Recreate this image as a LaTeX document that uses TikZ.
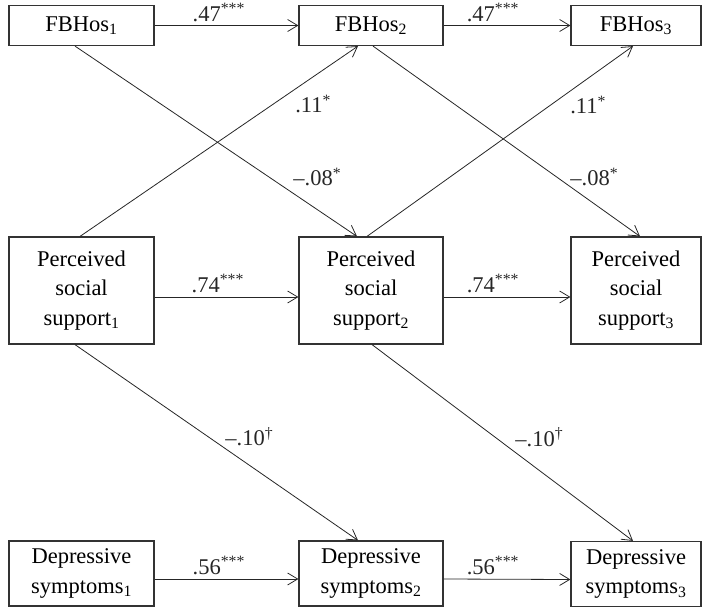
\documentclass[tikz,border=0pt]{standalone}
\usepackage{fontspec}
\setmainfont{Liberation Serif}
\usetikzlibrary{arrows.meta}

\begin{document}
\begin{tikzpicture}[x=1pt,y=-1pt,
    font=\fontsize{22.5}{29.5}\selectfont,
    >={Straight Barb[length=10pt,width=12pt]}]

        \useasboundingbox (0,0) rectangle (704,615);

        \begin{scope}[every node/.style={draw=black!80, line width=1.2pt, align=center, inner sep=0pt}]
          \node[minimum width=145pt, minimum height=40pt] (fb1) at (81.5,25.5)  {FBHos\textsubscript{1}};
          \node[minimum width=144pt, minimum height=40pt] (fb2) at (371,25.5)   {FBHos\textsubscript{2}};
          \node[minimum width=130pt, minimum height=40pt] (fb3) at (636,25.5)   {FBHos\textsubscript{3}};
          \node[minimum width=145pt, minimum height=107pt] (ps1) at (81.5,290.5) {Perceived\\social\\support\textsubscript{1}};
          \node[minimum width=144pt, minimum height=107pt] (ps2) at (371,290.5)  {Perceived\\social\\support\textsubscript{2}};
          \node[minimum width=130pt, minimum height=107pt] (ps3) at (636,290.5)  {Perceived\\social\\support\textsubscript{3}};
          \node[minimum width=145pt, minimum height=65pt] (ds1) at (81.5,573.5) {Depressive\\symptoms\textsubscript{1}};
          \node[minimum width=144pt, minimum height=65pt] (ds2) at (371,573.5)  {Depressive\\symptoms\textsubscript{2}};
          \node[minimum width=130pt, minimum height=65pt] (ds3) at (636,574)    {Depressive\\symptoms\textsubscript{3}};
        \end{scope}

        \begin{scope}[every node/.style={anchor=base west, inner sep=0pt}]

          \begin{scope}[every edge/.style={draw, ->, line width=.8pt, black!85}]
            % stability paths
            \path (fb1.east) edge node[pos=.262, yshift=4pt] (l47a) {.47\textsuperscript{***}} (fb2.west);
            \path (fb2.east) edge node[pos=.18, yshift=4pt] (l47b) {.47\textsuperscript{***}} (fb3.west);
            \path ([yshift=-6.5pt]ps1.east) edge node[pos=.255, yshift=5pt] (l74a) {.74\textsuperscript{***}} ([yshift=-6.5pt]ps2.west);
            \path ([yshift=-6.5pt]ps2.east) edge node[pos=.18, yshift=5pt] (l74b) {.74\textsuperscript{***}} ([yshift=-6.5pt]ps3.west);
            \path ([yshift=-5.5pt]ds1.east) edge node[pos=.262, yshift=5pt] (l56a) {.56\textsuperscript{***}} ([yshift=-5.5pt]ds2.west);
            \path ([yshift=-5.5pt]ds2.east) edge node[pos=.18, yshift=5pt] (l56b) {.56\textsuperscript{***}} ([yshift=-5.5pt]ds3.west);

            % cross-lagged paths
            \path ([xshift=-1.5pt]ps1.north) edge node[pos=.773, yshift=-23.5pt] (l11a) {.11\textsuperscript{*}} ([xshift=-13pt]fb2.south);
            \path ([xshift=-4pt]ps2.north) edge node[pos=.763, yshift=-22.5pt] (l11b) {.11\textsuperscript{*}} ([xshift=-3pt]fb3.south);
            \path ([xshift=-6.5pt]fb1.south) edge node[pos=.773, yshift=7.4pt] (l08a) {--.08\textsuperscript{*}} ([xshift=-14pt]ps2.north);
            \path ([xshift=2pt]fb2.south) edge node[pos=.738, yshift=1pt] (l08b) {--.08\textsuperscript{*}} ([xshift=4pt]ps3.north);
            \path ([xshift=-6.5pt]ps1.south) edge node[pos=.53, yshift=2.4pt] (l10a) {--.10\textsuperscript{\textdagger}} ([xshift=-13pt]ds2.north);
            \path ([xshift=1pt]ps2.south) edge node[pos=.548, yshift=6pt] (l10b) {--.10\textsuperscript{\textdagger}} ([xshift=-3pt]ds3.north);
          \end{scope}
        \end{scope}

      \end{tikzpicture}
\end{document}
